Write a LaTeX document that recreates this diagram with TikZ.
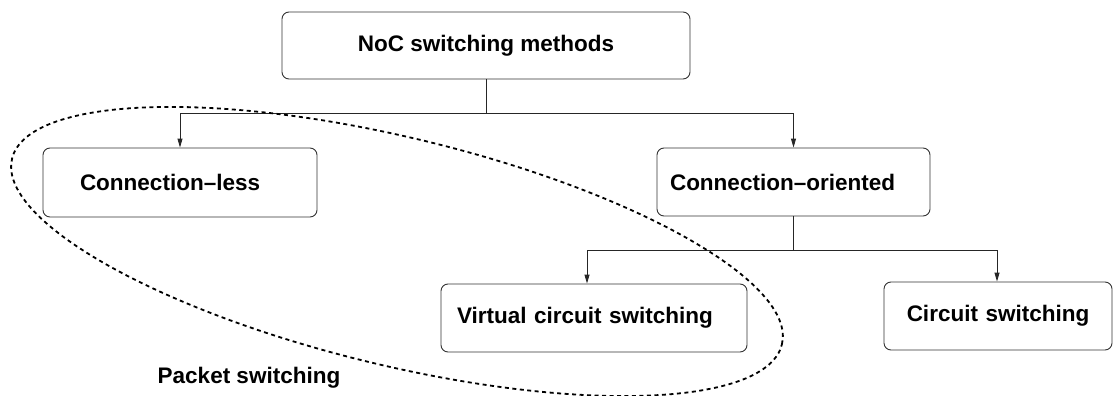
\documentclass[tikz,border=0pt]{standalone}
\usepackage{fontspec}
\setmainfont{Liberation Sans}
\usetikzlibrary{arrows.meta}
\hyphenpenalty=10000
\tikzset{
  box/.style={draw=black!80, line width=0.9pt, rounded corners=7pt, align=left,
    font=\fontsize{22.5}{27}\selectfont\bfseries, inner ysep=0pt},
  conn/.style={line width=0.9pt, draw=black!85},
  arr/.style={conn, -{Triangle[length=9pt,width=5pt]}},
  group/.style={dashed, line width=1.8pt, dash pattern=on 4pt off 3.5pt},
  plain/.style={font=\fontsize{22.5}{27}\selectfont\bfseries, inner sep=0pt}
}
\begin{document}
\begin{tikzpicture}[x=1pt,y=-1pt]
\useasboundingbox (0,0) rectangle (1117,396);
% boxes
\node[box, minimum width=408pt, minimum height=67pt, align=center] (top) at (486,45.5) {NoC switching methods};
\node[box, text width=200pt, inner xsep=37pt, minimum height=69pt] (cl) at (180,182.5) {Connection--less};
\node[box, text width=247pt, inner xsep=13pt, minimum height=68pt] (co) at (793.5,182) {Connection--oriented};
\node[box, text width=274pt, inner xsep=16pt, minimum height=68pt] (vcs) at (594,318) {Virtual circuit switching};
\node[box, text width=208pt, inner xsep=10pt, minimum height=68pt, align=center] (cs) at (998,316) {Circuit switching};
\node[plain] (ps) at (249,378) {Packet switching};
% connectors
\draw[conn] (top.south) -- ++(0,34) coordinate (j1);
\draw[arr] (j1) -| (cl.north);
\draw[arr] (j1) -| (co.north);
\draw[conn] (co.south) -- ++(0,34) coordinate (j2);
\draw[arr] (j2) -| ([xshift=-7pt]vcs.north);
\draw[arr] (j2) -| ([xshift=-1pt]cs.north);
% packet switching group
\coordinate (ec) at (397,251.5);
\draw[group, rotate around={-13.56:(ec)}] (ec) ellipse [x radius=396pt, y radius=114pt];
\end{tikzpicture}
\end{document}
